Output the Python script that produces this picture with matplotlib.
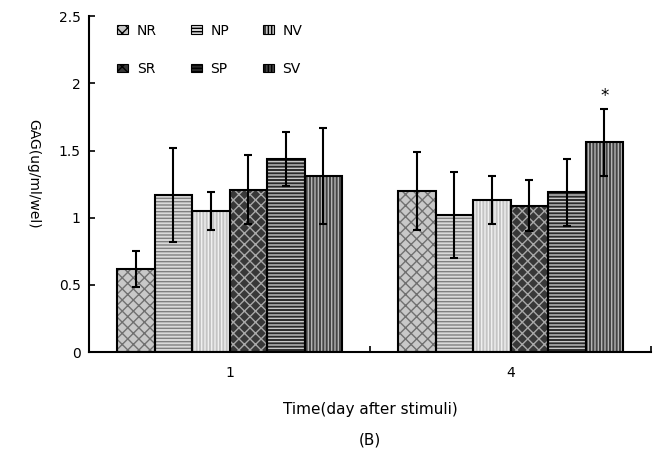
import matplotlib
matplotlib.use("Agg")
import matplotlib.pyplot as plt
import numpy as np

days = ["1", "4"]
groups = ["NR", "NP", "NV", "SR", "SP", "SV"]
means = {
    "NR": [0.62, 1.20],
    "NP": [1.17, 1.02],
    "NV": [1.05, 1.13],
    "SR": [1.21, 1.09],
    "SP": [1.44, 1.19],
    "SV": [1.31, 1.56],
}
errs = {
    "NR": [0.135, 0.29],
    "NP": [0.35, 0.32],
    "NV": [0.14, 0.18],
    "SR": [0.26, 0.19],
    "SP": [0.20, 0.25],
    "SV": [0.36, 0.25],
}
yticks = [0, 0.5, 1, 1.5, 2, 2.5]
ytick_labels = ["0", "0.5", "1", "1.5", "2", "2.5"]

styles = {
    "NR": ("#c8c8c8", "#707070", "xxx"),
    "NP": ("#dadada", "#808080", "-----"),
    "NV": ("#c4c4c4", "#f0f0f0", "|||||"),
    "SR": ("#383838", "#a8a8a8", "xxx"),
    "SP": ("#2a2a2a", "#c8c8c8", "-----"),
    "SV": ("#444444", "#b4b4b4", "|||||"),
}

plt.rcParams['font.family'] = ['DejaVu Sans']
plt.rcParams['hatch.linewidth'] = 1.0

fig = plt.figure(figsize=(6.55, 4.61), dpi=100)
ax = fig.add_axes([0.136, 0.236, 0.858, 0.729])

x = np.arange(len(days))
w = 0.1335
handles = {}
for i, g in enumerate(groups):
    fc, hc, hatch = styles[g]
    pos = x - 2.5 * w + i * w
    ax.bar(pos, means[g], w, color=fc, edgecolor=hc, hatch=hatch, linewidth=0, zorder=2)
    ax.bar(pos, means[g], w, color='none', edgecolor='black', linewidth=1.5, zorder=3)
    ax.errorbar(pos, means[g], yerr=errs[g], fmt='none', ecolor='black',
                elinewidth=1.5, capsize=3, capthick=1.5, zorder=4)
    h = matplotlib.patches.Patch(facecolor=fc, edgecolor='black', hatch=hatch, linewidth=0.8)
    handles[g] = h

# significance star
sv_pos = x[1] - 2.5 * w + 5 * w
ax.text(sv_pos, means["SV"][1] + errs["SV"][1] + 0.03, "*", ha='center', va='bottom', fontsize=12)

ax.set_xlim(-0.5, 1.5)
ax.set_ylim(0, 2.5)
ax.set_yticks(yticks)
ax.set_yticklabels(ytick_labels, fontsize=10)
ax.set_xticks(x)
ax.set_xticklabels(days, fontsize=10)
ax.tick_params(axis='x', length=0, pad=10)
ax.tick_params(axis='y', direction='in', length=4, width=1.2, pad=6)
ax.set_xticks([0.5, 1.5], minor=True)
ax.tick_params(axis='x', which='minor', direction='in', length=4, width=1.2)
for s in ['top', 'right']:
    ax.spines[s].set_visible(False)
for s in ['left', 'bottom']:
    ax.spines[s].set_linewidth(1.5)

ax.set_ylabel("GAG(ug/ml/wel)", fontsize=10, rotation=270, va='center', ha='center')
ax.yaxis.set_label_coords(-0.1, 0.53)
ax.set_xlabel("Time(day after stimuli)", fontsize=11, labelpad=16)
fig.text(0.565, 0.045, "(B)", ha='center', va='center', fontsize=11)

order = ["NR", "SR", "NP", "SP", "NV", "SV"]
leg = ax.legend([handles[g] for g in order], order, ncol=3, frameon=False,
                loc='upper left', bbox_to_anchor=(0.028, 1.015), fontsize=10,
                handlelength=0.8, handleheight=0.6, handletextpad=0.6,
                columnspacing=2.45, labelspacing=1.75)

fig.savefig("out.png", dpi=100)
